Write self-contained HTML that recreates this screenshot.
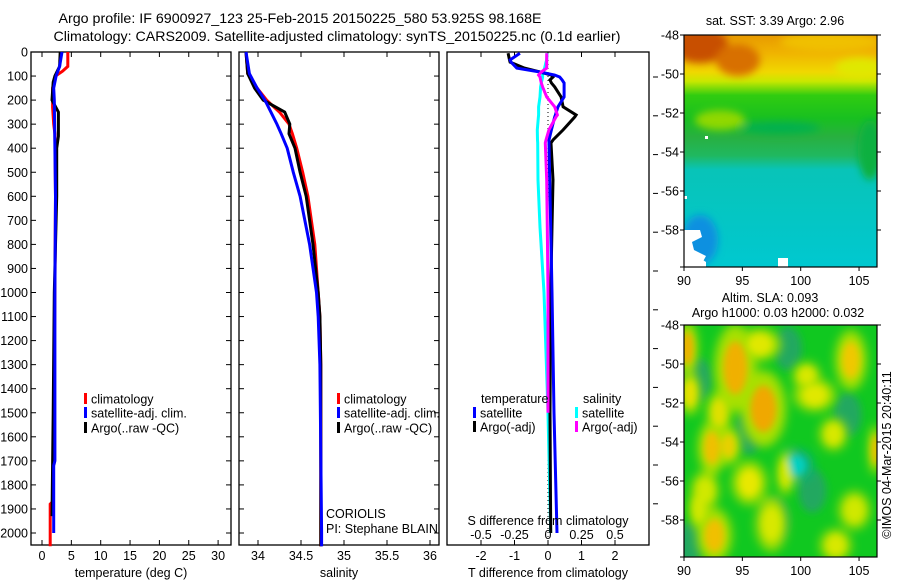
<!DOCTYPE html>
<html><head><meta charset="utf-8">
<style>
html,body{margin:0;padding:0;background:#fff;}
svg{display:block;font-family:"Liberation Sans",Arial,sans-serif;}
text{fill:#000;}
</style></head>
<body>
<svg id="fig" width="900" height="580" viewBox="0 0 900 580" xmlns="http://www.w3.org/2000/svg">
<defs>
<filter id="blur2" x="-30%" y="-30%" width="160%" height="160%"><feGaussianBlur stdDeviation="4"/></filter>
<filter id="blur3" x="-40%" y="-40%" width="180%" height="180%"><feGaussianBlur stdDeviation="5"/></filter>
<filter id="blur1" x="-30%" y="-30%" width="160%" height="160%"><feGaussianBlur stdDeviation="3.5"/></filter>
<clipPath id="clipm1"><rect x="684" y="35" width="193" height="232"/></clipPath>
<clipPath id="clipm2"><rect x="684" y="325" width="193" height="232"/></clipPath>
<linearGradient id="sstgrad" x1="0" y1="0" x2="0" y2="1">
<stop offset="0" stop-color="#e89a00"/>
<stop offset="0.08" stop-color="#f0b400"/>
<stop offset="0.16" stop-color="#f0d800"/>
<stop offset="0.20" stop-color="#c8e800"/>
<stop offset="0.26" stop-color="#30cc10"/>
<stop offset="0.36" stop-color="#18c020"/>
<stop offset="0.44" stop-color="#28b040"/>
<stop offset="0.52" stop-color="#20b860"/>
<stop offset="0.58" stop-color="#08c4b8"/>
<stop offset="1" stop-color="#00c8d0"/>
</linearGradient>
</defs>
<text x="300" y="23" text-anchor="middle" font-size="14" textLength="483" lengthAdjust="spacingAndGlyphs">Argo profile: IF 6900927_123 25-Feb-2015 20150225_580 53.925S 98.168E</text>
<text x="337" y="41" text-anchor="middle" font-size="14" textLength="567" lengthAdjust="spacingAndGlyphs">Climatology: CARS2009. Satellite-adjusted climatology: synTS_20150225.nc (0.1d earlier)</text>
<g id="p1"></g>
<g id="p2"></g>
<g id="p3"></g>
<g id="m1"></g>
<g id="m2"></g>
</svg>
<script>
// ---------- data ----------
const depthTicks = [0,100,200,300,400,500,600,700,800,900,1000,1100,1200,1300,1400,1500,1600,1700,1800,1900,2000];
const tempTicks = [0,5,10,15,20,25,30];
const salTicks = [34,34.5,35,35.5,36];
const salTickLabels = ["34","34.5","35","35.5","36"];
const tdTicks = [-2,-1,0,1,2];
const sdTicks = [-0.5,-0.25,0,0.25,0.5];
const sdTickLabels = ["-0.5","-0.25","0","0.25","0.5"];

const tClimDepth = [0,60,80,100,150,230,300,340,600,1000,1500,1870,1880,2055];
const tClimVal =   [4.4,4.4,3.5,2.3,1.8,1.8,2.0,2.2,2.3,2.2,2.0,1.8,1.4,1.4];
const tSatDepth = [0,60,100,150,200,600,1000,1700,1720,2000];
const tSatVal =   [3.4,3.0,2.4,2.0,2.1,2.3,2.2,2.2,2.0,2.0];
const tArgoDepth = [0,60,100,125,200,250,350,400,600,1000,1500,1930];
const tArgoVal =   [3.1,3.0,2.2,1.9,1.7,2.8,2.8,2.5,2.5,2.1,1.9,1.7];

const sDepth = [0,90,150,200,250,300,340,400,500,600,800,1000,1100,1300,2000,2055];
const sClim = [33.86,33.88,33.99,34.10,34.25,34.36,34.40,34.45,34.52,34.58,34.66,34.70,34.72,34.73,34.73,34.73];
const sSat  = [33.86,33.90,33.99,34.08,34.15,34.22,34.27,34.34,34.41,34.49,34.60,34.68,34.70,34.72,34.74,34.74];
const sArgo = [33.86,33.88,33.96,34.06,34.31,34.37,34.36,34.43,34.49,34.56,34.64,34.70,34.72,34.73,34.73,34.73];

const dDepth = [5,33,42,67,83,96,104,116,129,145,187,228,262,270,324,366,378,532,728,1000,1500,2000];
const dTSat =  [-0.84,-1.13,-1.1,-0.93,-0.24,0.2,0.35,0.42,0.48,0.48,0.48,0.3,0.22,0.2,0.1,0.03,0.03,0.05,0.08,0.12,0.18,0.27];
const dTArgo = [-1.19,-1.15,-1.13,-0.7,-0.24,0.1,0.15,0.06,0.1,0.2,0.39,0.45,0.84,0.8,0.45,0.15,0.09,0.15,0.12,0.08,0.06,0.08];
const dSSat =  [-0.007,-0.01,-0.015,-0.025,-0.035,-0.04,-0.04,-0.045,-0.05,-0.055,-0.06,-0.07,-0.07,-0.072,-0.08,-0.078,-0.077,-0.075,-0.06,-0.03,0.0,0.02];
const dSArgo = [-0.01,-0.01,-0.01,-0.01,-0.05,-0.07,-0.06,-0.055,-0.05,-0.04,-0.01,0.05,0.07,0.06,0.007,-0.015,-0.02,-0.01,-0.005,0.0,0.0,0.0];

const latTicks = [-48,-50,-52,-54,-56,-58];
const lonTicks = [90,95,100,105];
const slaBlobLon = [90.3,90.5,94.4,96.8,92.4,93.8,95.6,104.3,101.2,92.6,96.5,99.6,104.6,102.8,91.3,106.4,98.7,93.0,91.8,97.5,103.0,100.5];
const slaBlobLat = [-49.2,-51.5,-50.2,-52.3,-54.3,-54.2,-56.1,-49.8,-51.6,-58.8,-49.0,-55.2,-57.5,-53.6,-57.4,-54.4,-55.6,-52.5,-56.5,-58.2,-59.3,-50.6];
const slaBlobRx = [0.6,0.6,1.2,1.3,0.8,0.7,1.0,0.9,1.2,1.0,1.2,1.0,0.9,0.8,0.6,0.4,0.5,0.7,0.8,0.9,0.9,0.8];
const slaBlobRy = [1.0,0.8,1.6,1.4,1.0,0.7,0.8,1.1,0.6,1.0,0.6,0.6,0.7,0.6,0.8,0.9,0.8,0.8,0.7,1.0,0.6,0.5];
const slaBlobCol = ["#f0b000","#e8e000","#f0b000","#f0a800","#f0c000","#e8d000","#e8e800","#f0c800","#e0e800","#f0c000","#e0e800","#00d0c0","#d0e800","#d8e800","#d0e800","#f0c000","#d0e800","#e0e000","#d0e800","#d8e800","#d8e800","#d8e800"];
const slaDarkLon = [91.2,95.5,98.9,101,90.5,97.8,104];
const slaDarkLat = [-50.8,-53.5,-49.2,-56.5,-59.2,-58,-52.6];

// ---------- helpers ----------
const NS="http://www.w3.org/2000/svg";
function mk(parent, tag, attrs, txt){const e=document.createElementNS(NS,tag);for(const k in attrs)e.setAttribute(k,attrs[k]);if(txt!==undefined)e.textContent=txt;parent.appendChild(e);return e;}
const yD = d => 52 + d*0.2405;
const xT = v => 42 + v*5.87;
const xS = v => 258 + (v-34)*86;
const xTd = v => 548 + v*33.5;
const xSd = v => 548 + v*134;
const PB = 545;

function frame(g, x0, x1, name){
  const r = mk(g,'rect',{x:x0,y:52,width:x1-x0,height:PB-52,fill:'none',stroke:'#000','stroke-width':1.3});
  
  
}
function yTicks(g,x0,x1,labels){
  depthTicks.forEach(d=>{
    const y=yD(d);
    mk(g,'line',{x1:x0,y1:y,x2:x0+5,y2:y,stroke:'#000'});
    mk(g,'line',{x1:x1,y1:y,x2:x1-5,y2:y,stroke:'#000'});
    if(labels){
      const t=mk(g,'text',{x:x0-3,y:y+4.5,'text-anchor':'end','font-size':12.5},String(d));
      
      
    }
  });
}
function xTicks(g, ticks, labels, fx, ylab){
  ticks.forEach((v,i)=>{
    const x=fx(v);
    mk(g,'line',{x1:x,y1:PB,x2:x,y2:PB-5,stroke:'#000'});
    mk(g,'line',{x1:x,y1:52,x2:x,y2:57,stroke:'#000'});
    const t=mk(g,'text',{x:x,y:ylab,'text-anchor':'middle','font-size':12.5},labels[i]);
    
    
  });
}
function line(g, depths, vals, fx, col, name, w){
  const pts = depths.map((d,i)=>fx(vals[i]).toFixed(1)+','+yD(d).toFixed(1)).join(' ');
  const p=mk(g,'polyline',{points:pts,fill:'none',stroke:col,'stroke-width':w||3,'stroke-linejoin':'miter'});
  
  
}
function legend(g, x, y, col, label, name){
  mk(g,'rect',{x:x,y:y-6,width:3,height:11,fill:col});
  const t=mk(g,'text',{x:x+7,y:y+4.5,'font-size':12.5},label);
  
  
}

// ---------- panel 1 ----------
const p1=document.getElementById('p1');
frame(p1,31,231,'temperature-panel');
yTicks(p1,31,231,true);
xTicks(p1,tempTicks,tempTicks.map(String),xT,560);
line(p1,tClimDepth,tClimVal,xT,'#ff0000','temp-climatology-line');
line(p1,tArgoDepth,tArgoVal,xT,'#000000','temp-argo-line');
line(p1,tSatDepth,tSatVal,xT,'#0000ff','temp-satellite-line');
{const t=mk(p1,'text',{x:131,y:577,'text-anchor':'middle','font-size':12.5},'temperature (deg C)');}
legend(p1,84,399,'#ff0000','climatology','legend-climatology');
legend(p1,84,413,'#0000ff','satellite-adj. clim.','legend-satellite');
legend(p1,84,428,'#000000','Argo(..raw -QC)','legend-argo');

// ---------- panel 2 ----------
const p2=document.getElementById('p2');
frame(p2,239,439,'salinity-panel');
yTicks(p2,239,439,false);
xTicks(p2,salTicks,salTickLabels,xS,560);
line(p2,sDepth,sClim,xS,'#ff0000','sal-climatology-line');
line(p2,sDepth,sArgo,xS,'#000000','sal-argo-line');
line(p2,sDepth,sSat,xS,'#0000ff','sal-satellite-line');
{const t=mk(p2,'text',{x:339,y:577,'text-anchor':'middle','font-size':12.5},'salinity');}
legend(p2,337,399,'#ff0000','climatology','legend-climatology');
legend(p2,337,413,'#0000ff','satellite-adj. clim.','legend-satellite');
legend(p2,337,428,'#000000','Argo(..raw -QC)','legend-argo');
{const t=mk(p2,'text',{x:326,y:518,'font-size':12.5},'CORIOLIS');}
{const t=mk(p2,'text',{x:326,y:533,'font-size':12.5},'PI: Stephane BLAIN');}

// ---------- panel 3 ----------
const p3=document.getElementById('p3');
frame(p3,447,649,'difference-panel');
tdTicks.forEach(v=>{const x=xTd(v);mk(p3,'line',{x1:x,y1:PB,x2:x,y2:PB-5,stroke:'#000'});mk(p3,'line',{x1:x,y1:52,x2:x,y2:57,stroke:'#000'});
 const t=mk(p3,'text',{x:x,y:560,'text-anchor':'middle','font-size':12.5},String(v));});
sdTicks.forEach((v,i)=>{const t=mk(p3,'text',{x:xSd(v),y:539,'text-anchor':'middle','font-size':12.5},sdTickLabels[i]);});
for(let i=0;i<12;i++){const y=77+i*38.8;if(y>PB-5)break;mk(p3,'line',{x1:653,y1:y,x2:658,y2:y,stroke:'#000'});}
mk(p3,'line',{x1:xTd(0),y1:52,x2:xTd(0),y2:PB,stroke:'#000','stroke-dasharray':'1,3'});
line(p3,dDepth,dSSat,xSd,'#00ffff','sal-diff-satellite-line');
line(p3,dDepth,dTArgo,xTd,'#000000','temp-diff-argo-line');
line(p3,dDepth,dTSat,xTd,'#0000ff','temp-diff-satellite-line');
line(p3,dDepth.slice(0,21),dSArgo.slice(0,21),xSd,'#ff00ff','sal-diff-argo-line');
{const t=mk(p3,'text',{x:548,y:525,'text-anchor':'middle','font-size':12.5},'S difference from climatology');}
{const t=mk(p3,'text',{x:548,y:577,'text-anchor':'middle','font-size':12.5},'T difference from climatology');}
{const t=mk(p3,'text',{x:481,y:403,'font-size':12.5},'temperature');}
{const t=mk(p3,'text',{x:583,y:403,'font-size':12.5},'salinity');}
legend(p3,473,413,'#0000ff','satellite','legend-temp-satellite');
legend(p3,473,427,'#000000','Argo(-adj)','legend-temp-argo');
legend(p3,575,413,'#00ffff','satellite','legend-sal-satellite');
legend(p3,575,427,'#ff00ff','Argo(-adj)','legend-sal-argo');

// ---------- maps ----------
const mlon = v => 684 + (v-90)*11.67;
const mlat = (v,top) => top + (-48 - v)*19.5;
function mapAxes(g,top,name){
  mk(g,'rect',{x:684,y:top,width:193,height:232,fill:'none',stroke:'#000','stroke-width':1.2});
  latTicks.forEach(v=>{const y=mlat(v,top);mk(g,'line',{x1:684,y1:y,x2:680,y2:y,stroke:'#000'});mk(g,'line',{x1:877,y1:y,x2:881,y2:y,stroke:'#000'});
    const t=mk(g,'text',{x:679,y:y+4.5,'text-anchor':'end','font-size':12.5},String(v));});
  mk(g,'line',{x1:680,y1:top+232,x2:684,y2:top+232,stroke:'#000'});
  lonTicks.forEach(v=>{const x=mlon(v);mk(g,'line',{x1:x,y1:top+232,x2:x,y2:top+236,stroke:'#000'});
    const t=mk(g,'text',{x:x,y:top+250,'text-anchor':'middle','font-size':12.5},String(v));});
}
// SST map
const m1=document.getElementById('m1');
{const c=mk(m1,'g',{'clip-path':'url(#clipm1)'});
 mk(c,'rect',{x:684,y:35,width:193,height:232,fill:'url(#sstgrad)'});
 const b=mk(c,'g',{filter:'url(#blur2)'});
 mk(b,'ellipse',{cx:700,cy:45,rx:28,ry:18,fill:'#c85000'});
 mk(b,'ellipse',{cx:738,cy:60,rx:22,ry:16,fill:'#d87000'});
 mk(b,'ellipse',{cx:830,cy:42,rx:50,ry:10,fill:'#f0c000'});
 mk(b,'ellipse',{cx:860,cy:68,rx:25,ry:10,fill:'#e0e800'});
 mk(b,'ellipse',{cx:720,cy:120,rx:25,ry:10,fill:'#90d800'});
 mk(b,'ellipse',{cx:780,cy:128,rx:40,ry:6,fill:'#00b050'});
 mk(b,'ellipse',{cx:870,cy:150,rx:12,ry:30,fill:'#10b040'});
 mk(b,'ellipse',{cx:700,cy:240,rx:18,ry:25,fill:'#1090e0'});
 mk(c,'polygon',{points:'684,230 700,230 702,237 692,242 694,250 706,256 700,267 684,267',fill:'#fff'});
 mk(c,'polygon',{points:'692,262 700,258 706,262 706,267 692,267',fill:'#ffffff'});
 mk(c,'rect',{x:778,y:258,width:10,height:9,fill:'#fff'});
 mk(c,'rect',{x:684,y:196,width:3,height:3,fill:'#fff'});
 mk(c,'rect',{x:705,y:136,width:3,height:3,fill:'#fff'});
}
mapAxes(m1,35,'sst-map');
{const t=mk(m1,'text',{x:775,y:25,'text-anchor':'middle','font-size':12.5},'sat. SST: 3.39 Argo: 2.96');}
// SLA map
const m2=document.getElementById('m2');
{const c=mk(m2,'g',{'clip-path':'url(#clipm2)'});
 mk(c,'rect',{x:684,y:325,width:193,height:232,fill:'#10c820'});
 const d=mk(c,'g',{filter:'url(#blur2)'});
 slaDarkLon.forEach((lo,i)=>{mk(d,'ellipse',{cx:mlon(lo),cy:mlat(slaDarkLat[i],325),rx:14,ry:22,fill:'#20a860'});});
 const h=mk(c,'g',{filter:'url(#blur3)'});
 slaBlobLon.forEach((lo,i)=>{
   const e=mk(h,'ellipse',{cx:mlon(lo),cy:mlat(slaBlobLat[i],325),rx:slaBlobRx[i]*11.67*1.5,ry:slaBlobRy[i]*19.5*1.4,fill:slaBlobCol[i]==='#00d0c0'?'#10b080':'#a8e000'});
   
   
 });
 const b=mk(c,'g',{filter:'url(#blur1)'});
 slaBlobLon.forEach((lo,i)=>{
   const e=mk(b,'ellipse',{cx:mlon(lo),cy:mlat(slaBlobLat[i],325),rx:slaBlobRx[i]*11.67*0.85,ry:slaBlobRy[i]*19.5*0.85,fill:slaBlobCol[i]});
   
   
 });
}
mapAxes(m2,325,'sla-map');
{const t=mk(m2,'text',{x:770,y:302,'text-anchor':'middle','font-size':12.5},'Altim. SLA: 0.093');}
{const t=mk(m2,'text',{x:778,y:317,'text-anchor':'middle','font-size':12.5},'Argo h1000: 0.03 h2000: 0.032');}
{const t=mk(m2,'text',{x:0,y:0,'text-anchor':'middle','font-size':12.5,transform:'translate(891,455) rotate(-90)'},'©IMOS 04-Mar-2015 20:40:11');}
</script>
</body></html>
